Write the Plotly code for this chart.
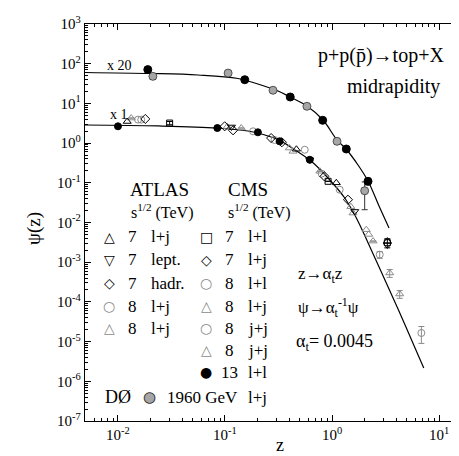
import plotly.graph_objects as go

# ---------------- data ----------------
# fit curves
curve_x20_z = [0.00492, 0.0203, 0.056, 0.132, 0.217, 0.313, 0.405, 0.583, 0.824,
               1.114, 1.352, 1.75, 2.17, 2.75, 3.41]
curve_x20_psi = [60.0, 56.6, 51.9, 42.4, 29.1, 20.5, 14.5, 8.6, 3.82,
                 1.20, 0.71, 0.281, 0.111, 0.026, 0.00726]
curve_x1_z = [0.00492, 0.0237, 0.0841, 0.164, 0.203, 0.313, 0.448, 0.641, 0.918,
              1.315, 1.688, 2.17, 2.89, 4.14, 6.14, 7.20]
curve_x1_psi = [2.86, 2.70, 2.40, 2.02, 1.80, 1.22, 0.683, 0.348, 0.132,
                0.0414, 0.0130, 0.0031, 5.66e-4, 6.62e-5, 5.8e-6, 2.16e-6]

# x20 set
cms13_x20_z = [0.019, 0.153, 0.407, 0.818, 1.36, 2.17]
cms13_x20_psi = [71, 39.5, 14.5, 3.75, 0.71, 0.109]
cms13_x20_err = [0, 0, 0, 0, 0, 0.02]
d0_z = [0.0212, 0.107, 0.281, 0.583, 1.114, 2.02]
d0_psi = [48, 58, 21.4, 8.45, 1.11, 0.063]
d0_err = [8, 0, 0, 0, 0.15, 0.042]

# x1 set
atlas7_lj_z = [0.0122, 0.465, 1.097, 3.29]
atlas7_lj_psi = [3.5, 0.70, 0.10, 0.0034]
atlas7_lept_z = [0.115, 0.62, 1.63, 3.29]
atlas7_lept_psi = [2.55, 0.38, 0.019, 0.0027]
atlas7_hadr_z = [0.018, 0.119, 0.34, 0.85]
atlas7_hadr_psi = [4.05, 2.1, 1.05, 0.145]
atlas8_lj_c_z = [0.0154, 0.183, 0.556, 1.18]
atlas8_lj_c_psi = [3.9, 1.98, 0.68, 0.067]
atlas8_lj_t_z = [0.0133, 0.142, 0.77, 2.42, 3.46, 4.29]
atlas8_lj_t_psi = [4.28, 2.4, 0.195, 0.0034, 5.35e-4, 1.58e-4]
atlas8_lj_t_err = [0, 0, 0, 0, 1.2e-4, 3.5e-5]
cms7_ll_z = [0.0304, 0.919, 3.29]
cms7_ll_psi = [3.2, 0.109, 0.0031]
cms7_ll_err = [0.3, 0, 0.0008]
cms7_lj_z = [0.0993, 0.27, 1.41]
cms7_lj_psi = [2.65, 1.34, 0.0375]
cms8_ll_z = [0.0165, 0.29, 0.80]
cms8_ll_psi = [3.9, 1.2, 0.17]
cms8_lj_z = [0.105, 0.432, 1.57, 2.09]
cms8_lj_psi = [2.6, 0.62, 0.0173, 0.0066]
cms8_jj_c_z = [2.79, 6.84]
cms8_jj_c_psi = [0.00155, 1.65e-5]
cms8_jj_c_err = [0.0003, 0.75e-5]
cms8_jj_t_z = [0.40, 1.5, 2.2]
cms8_jj_t_psi = [0.75, 0.025, 0.005]
cms13_ll_z = [0.010, 0.0848, 0.203, 0.324, 0.62]
cms13_ll_psi = [2.65, 2.4, 1.87, 1.11, 0.38]

ytick_vals = [1e-7, 1e-6, 1e-5, 1e-4, 1e-3, 1e-2, 1e-1, 1, 10, 100, 1000]
ytick_text = ["10<sup>-7</sup>", "10<sup>-6</sup>", "10<sup>-5</sup>", "10<sup>-4</sup>",
              "10<sup>-3</sup>", "10<sup>-2</sup>", "10<sup>-1</sup>", "10<sup>0</sup>",
              "10<sup>1</sup>", "10<sup>2</sup>", "10<sup>3</sup>"]
xtick_vals = [0.01, 0.1, 1, 10]
xtick_text = ["10<sup>-2</sup>", "10<sup>-1</sup>", "10<sup>0</sup>", "10<sup>1</sup>"]

# ---------------- styling ----------------
GRAY = "#8a8a8a"
BLACK = "#000000"
SERIF = "Liberation Serif"
W, H = 459, 456
L, R, T, B = 77, 452, 16, 413

fig = go.Figure()

fig.add_trace(go.Scatter(x=curve_x20_z, y=curve_x20_psi, mode="lines",
                         line=dict(color=BLACK, width=1.2, shape="spline"), hoverinfo="skip"))
fig.add_trace(go.Scatter(x=curve_x1_z, y=curve_x1_psi, mode="lines",
                         line=dict(color=BLACK, width=1.2, shape="spline"), hoverinfo="skip"))


def pts(z, psi, symbol, color, size=7, fill=None, err=None, lw=1.0):
    marker = dict(symbol=symbol, size=size, color=fill if fill else color,
                  line=dict(color=color, width=lw))
    kw = {}
    if err is not None:
        kw["error_y"] = dict(type="data", array=err, color=color, thickness=1, width=3)
    fig.add_trace(go.Scatter(x=z, y=psi, mode="markers", marker=marker, **kw))


pts(atlas8_lj_t_z, atlas8_lj_t_psi, "triangle-up-open", GRAY, err=atlas8_lj_t_err)
pts(atlas8_lj_c_z, atlas8_lj_c_psi, "circle-open", GRAY)
pts(cms8_ll_z, cms8_ll_psi, "circle-open", GRAY)
pts(cms8_lj_z, cms8_lj_psi, "triangle-up-open", GRAY)
pts(cms8_jj_c_z, cms8_jj_c_psi, "circle-open", GRAY, err=cms8_jj_c_err)
pts(cms8_jj_t_z, cms8_jj_t_psi, "triangle-up-open", GRAY)
pts(atlas7_lj_z, atlas7_lj_psi, "triangle-up-open", BLACK)
pts(atlas7_lept_z, atlas7_lept_psi, "triangle-down-open", BLACK)
pts(atlas7_hadr_z, atlas7_hadr_psi, "diamond-open", BLACK)
pts(cms7_ll_z, cms7_ll_psi, "square-open", BLACK, size=6, err=cms7_ll_err)
pts(cms7_lj_z, cms7_lj_psi, "diamond-open", BLACK)
pts(cms13_ll_z, cms13_ll_psi, "circle", BLACK, size=7)
pts(d0_z, d0_psi, "circle", "#333333", size=8, fill="#a6a6a6", err=d0_err, lw=0.8)
pts(cms13_x20_z, cms13_x20_psi, "circle", BLACK, size=8, err=cms13_x20_err)


def px(x):
    return (x - L) / (R - L)


def py(y):
    return (B - y) / (B - T)


ann = []


def txt(s, x, y, size=17, xa="left", color=BLACK, font=SERIF, angle=0):
    ann.append(dict(text=s, x=px(x), y=py(y), xref="paper", yref="paper",
                    xanchor=xa, yanchor="middle", showarrow=False, textangle=angle,
                    font=dict(family=font, size=size, color=color)))


txt("x 20", 97, 58, 14)
txt("x 1", 100, 106, 14)
txt("p+p(p\u0304)\u2192top+X", 438, 47, 20, xa="right")
txt("midrapidity", 434, 79, 20, xa="right")
txt("ATLAS", 120, 181, 19)
txt("CMS", 218, 181, 19)
txt("s<sup>1/2</sup> (TeV)", 121, 204, 16)
txt("s<sup>1/2</sup> (TeV)", 218, 204, 16)

SYM = "DejaVu Sans"
atlas_rows = [("\u25B3", BLACK, "7", "l+j"), ("\u25BD", BLACK, "7", "lept."),
              ("\u25C7", BLACK, "7", "hadr."), ("\u25CB", GRAY, "8", "l+j"),
              ("\u25B3", GRAY, "8", "l+j")]
cms_rows = [("\u25A1", BLACK, "7", "l+l"), ("\u25C7", BLACK, "7", "l+j"),
            ("\u25CB", GRAY, "8", "l+l"), ("\u25B3", GRAY, "8", "l+j"),
            ("\u25CB", GRAY, "8", "j+j"), ("\u25B3", GRAY, "8", "j+j"),
            ("\u25CF", BLACK, "13", "l+l")]
rows_y = [229, 252, 275, 298, 320, 342, 364]
for i, (s, c, n, lab) in enumerate(atlas_rows):
    txt(s, 101, rows_y[i], 14, xa="center", color=c, font=SYM)
    txt(n, 124, rows_y[i], 17, xa="center")
    txt(lab, 141, rows_y[i], 17)
for i, (s, c, n, lab) in enumerate(cms_rows):
    txt(s, 198, rows_y[i], 14, xa="center", color=c, font=SYM)
    txt(n, 221, rows_y[i], 17, xa="center")
    txt(lab, 238, rows_y[i], 17)

txt("D\u00D8", 95, 389, 18)
txt("\u25CF", 141, 389, 15, xa="center", color="#a6a6a6", font=SYM)
txt("\u25CB", 141, 389, 15, xa="center", color="#333333", font=SYM)
txt("1960 GeV", 157, 389, 17)
txt("l+j", 238, 389, 17)

txt("z\u2192\u03B1<sub>t</sub>z", 288, 267, 17)
txt("\u03C8\u2192\u03B1<sub>t</sub><sup>-1</sup>\u03C8", 288, 299, 17)
txt("\u03B1<sub>t</sub>= 0.0045", 286, 334, 18)

txt("\u03C8(z)", 26, 220, 19, xa="center", angle=-90)
txt("z", 272, 437, 18, xa="center")

axis_common = dict(type="log", showgrid=False, zeroline=False, showline=True,
                   linecolor=BLACK, linewidth=1.3, mirror="ticks", ticks="inside",
                   ticklen=6, tickcolor=BLACK, tickwidth=1,
                   tickfont=dict(family=SERIF, size=15, color=BLACK),
                   minor=dict(ticks="inside", ticklen=3, tickcolor=BLACK, dtick="D1"))

fig.update_layout(
    width=W, height=H, showlegend=False,
    paper_bgcolor="white", plot_bgcolor="white",
    margin=dict(l=L, r=W - R, t=T, b=H - B),
    annotations=ann,
    xaxis=dict(range=[-2.308, 1.196], tickmode="array", tickvals=xtick_vals,
               ticktext=xtick_text, **axis_common),
    yaxis=dict(range=[-7, 3], tickmode="array", tickvals=ytick_vals,
               ticktext=ytick_text, **axis_common),
)

fig.write_html("out.html")
